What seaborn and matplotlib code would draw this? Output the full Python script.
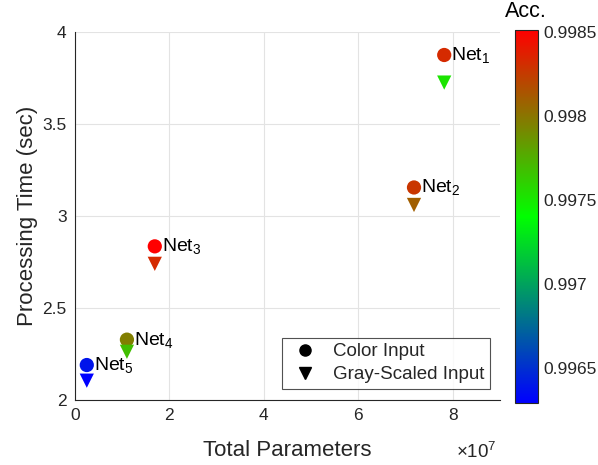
import numpy as np
import pandas as pd
import seaborn as sns
import matplotlib
matplotlib.use("Agg")
import matplotlib.pyplot as plt
from matplotlib.colors import LinearSegmentedColormap, Normalize
from matplotlib.cm import ScalarMappable
from matplotlib.lines import Line2D
from matplotlib.ticker import FuncFormatter, MultipleLocator

# Network summary
nets = ["Net$_1$", "Net$_2$", "Net$_3$", "Net$_4$", "Net$_5$"]
params = [7.82e7, 7.18e7, 1.69e7, 1.10e7, 0.25e7]
time_color = [3.875, 3.155, 2.835, 2.328, 2.190]
time_gray = [3.725, 3.060, 2.740, 2.262, 2.105]
acc_color = [0.99832, 0.99827, 0.99851, 0.99796, 0.99638]
acc_gray = [0.99752, 0.99810, 0.99832, 0.99768, 0.99629]
cbar_ticks = [0.9965, 0.997, 0.9975, 0.998, 0.9985]

df_color = pd.DataFrame({"params": params, "time": time_color, "acc": acc_color})
df_gray = pd.DataFrame({"params": params, "time": time_gray, "acc": acc_gray})

sns.set_theme(style="white")
plt.rcParams["font.family"] = ["Liberation Sans", "DejaVu Sans"]
plt.rcParams["mathtext.fontset"] = "custom"
plt.rcParams["mathtext.rm"] = "Liberation Sans"
plt.rcParams["mathtext.it"] = "Liberation Sans"
plt.rcParams["mathtext.default"] = "regular"

ink = "#262626"
cmap = LinearSegmentedColormap.from_list("bgr", ["#0000ff", "#00ff00", "#ff0000"])
vmin, vmax = min(acc_gray + acc_color), max(acc_gray + acc_color)
norm = Normalize(vmin=vmin, vmax=vmax)

fig = plt.figure(figsize=(5.98, 4.65), dpi=100)
ax = fig.add_axes([0.1254, 0.1398, 0.7106, 0.7914])

sns.scatterplot(data=df_color, x="params", y="time", hue="acc", palette=cmap,
                hue_norm=norm, marker="o", s=105, linewidth=0, legend=False, ax=ax)
sns.scatterplot(data=df_gray, x="params", y="time", hue="acc", palette=cmap,
                hue_norm=norm, marker="v", s=105, linewidth=0, legend=False, ax=ax)

for name, x, y in zip(nets, params, time_color):
    ax.annotate(name, (x, y), xytext=(5, -3.5), textcoords="offset points",
                ha="left", va="baseline", fontsize=14, color="black")

ax.set_xlim(0, 9e7)
ax.set_ylim(2, 4)
ax.xaxis.set_major_locator(MultipleLocator(2e7))
ax.yaxis.set_major_locator(MultipleLocator(0.5))
ax.xaxis.set_major_formatter(FuncFormatter(lambda v, p: f"{v / 1e7:g}"))
ax.yaxis.set_major_formatter(FuncFormatter(lambda v, p: f"{v:g}"))
ax.grid(True, color="#e3e3e3", linewidth=0.8)
ax.set_axisbelow(True)
for side in ["top", "right"]:
    ax.spines[side].set_visible(False)
for side in ["left", "bottom"]:
    ax.spines[side].set_color(ink)
    ax.spines[side].set_linewidth(0.8)
ax.tick_params(axis="both", direction="in", length=4, width=0.8, color=ink,
               labelcolor=ink, labelsize=12.5, pad=6)
ax.set_xlabel("Total Parameters", fontsize=16, color=ink, labelpad=12)
ax.set_ylabel("Processing Time (sec)", fontsize=16, color=ink, labelpad=3)
fig.text(0.763, 0.006, r"$\times10^{7}$", fontsize=13.5, color=ink, ha="left", va="bottom")

handles = [
    Line2D([], [], marker="o", color="black", linestyle="none", markersize=8),
    Line2D([], [], marker="v", color="black", linestyle="none", markersize=8),
]
leg = ax.legend(handles, ["Color Input", "Gray-Scaled Input"], loc="lower right",
                bbox_to_anchor=(0.99, 0.015), fontsize=13.5, frameon=True, fancybox=False,
                borderpad=0.3, handletextpad=0.6, labelspacing=0.3, handlelength=1.8,
                borderaxespad=0.3)
leg.get_frame().set_edgecolor(ink)
leg.get_frame().set_linewidth(0.8)

cax = fig.add_axes([0.861, 0.1334, 0.0385, 0.8021])
sm = ScalarMappable(norm=norm, cmap=cmap)
cb = fig.colorbar(sm, cax=cax, ticks=cbar_ticks)
cb.ax.yaxis.set_major_formatter(FuncFormatter(lambda v, p: f"{v:g}"))
cb.outline.set_edgecolor(ink)
cb.outline.set_linewidth(0.8)
cb.ax.tick_params(direction="in", length=4, width=0.8, color=ink, labelcolor=ink,
                  labelsize=12.5, pad=4)
cb.ax.set_title("Acc.", fontsize=15.5, color="black", pad=9)

fig.savefig("out.png", dpi=100)
